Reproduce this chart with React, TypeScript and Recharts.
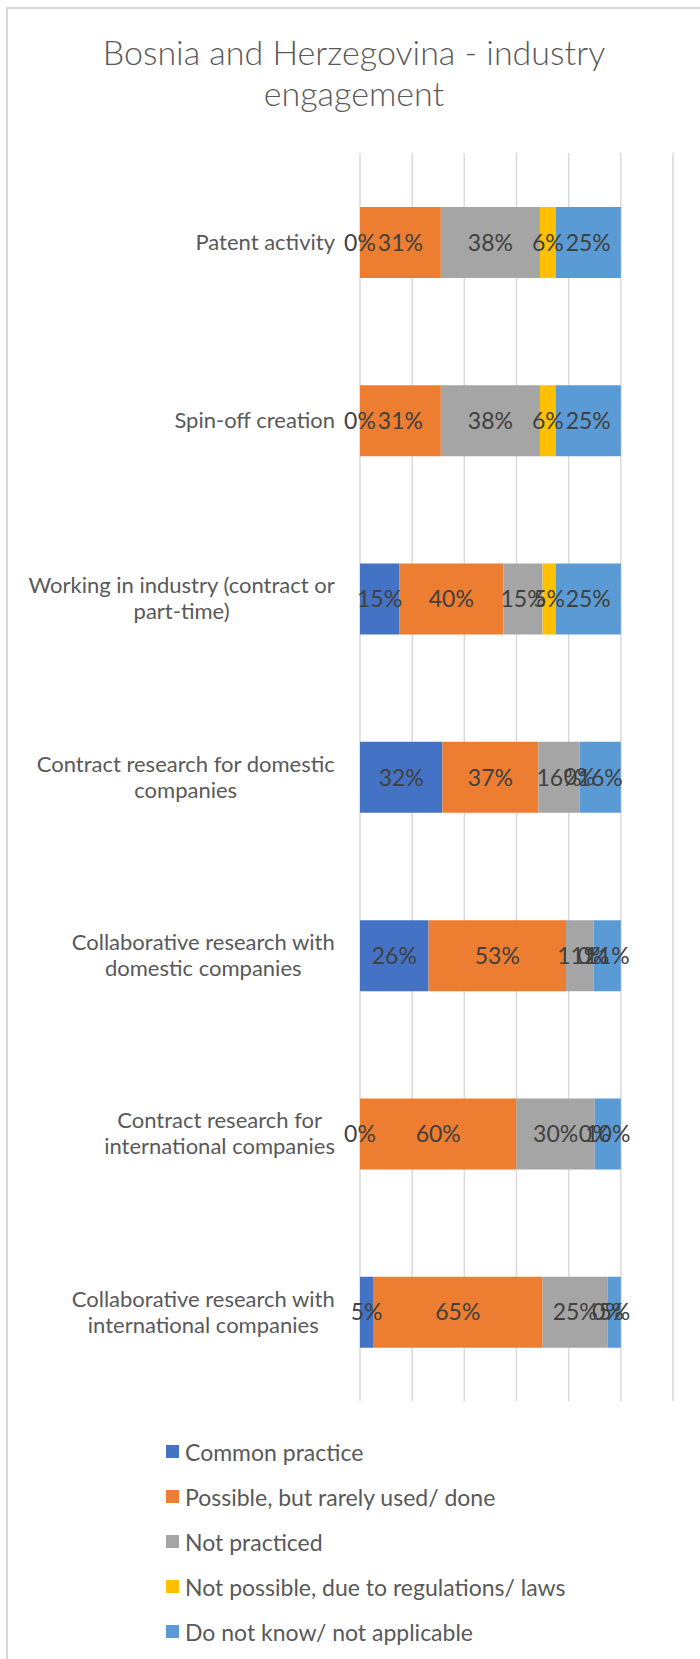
import React from "react";
import { BarChart, Bar, XAxis, YAxis, CartesianGrid, LabelList, Legend } from "recharts";

const categories = [
  "Patent activity",
  "Spin-off creation",
  "Working in industry (contract or\npart-time)",
  "Contract research for domestic\ncompanies",
  "Collaborative research with\ndomestic companies",
  "Contract research for\ninternational companies",
  "Collaborative research with\ninternational companies",
];

const commonPractice = [0, 0, 15, 31.6, 26.3, 0, 5];
const rarelyUsed = [31, 31, 40, 36.8, 52.7, 60, 65];
const notPracticed = [38, 38, 15, 15.8, 10.5, 30, 25];
const notPossible = [6, 6, 5, 0, 0, 0, 0];
const doNotKnow = [25, 25, 25, 15.8, 10.5, 10, 5];

const seriesNames = [
  "Common practice",
  "Possible, but rarely used/ done",
  "Not practiced",
  "Not possible, due to regulations/ laws",
  "Do not know/ not applicable",
];
const seriesKeys = ["common", "rarely", "notPracticed", "notPossible", "unknown"];
const seriesColors = ["#4472C4", "#ED7D31", "#A5A5A5", "#FFC000", "#5B9BD5"];
const seriesValues = [commonPractice, rarelyUsed, notPracticed, notPossible, doNotKnow];

const xTicks = [0, 20, 40, 60, 80, 100, 120];

const data = categories.map((name, i) => ({
  name,
  common: commonPractice[i],
  rarely: rarelyUsed[i],
  notPracticed: notPracticed[i],
  notPossible: notPossible[i],
  unknown: doNotKnow[i],
}));

const FONT = "Lato, 'Noto Sans', sans-serif";
const TEXT = "#595959";
const LABEL = "#404040";
const LABEL_SIZE = 23;

let ctx: CanvasRenderingContext2D | null = null;
const measure = (s: string, size: number) => {
  if (!ctx) ctx = document.createElement("canvas").getContext("2d");
  if (!ctx) return s.length * size * 0.5;
  ctx.font = `${size}px Lato`;
  return ctx.measureText(s).width;
};

const pct = (v: any) => `${Math.round(Number(v))}%`;

const CategoryTick = (props: any) => {
  const { x, y, payload } = props;
  const lines = String(payload.value).split("\n");
  const size = 22;
  if (lines.length === 1) {
    return (
      <text x={x} y={y} dy="0.35em" textAnchor="end" fill={TEXT} fontSize={size} fontFamily={FONT}>
        {lines[0]}
      </text>
    );
  }
  const w = Math.max(...lines.map((l) => measure(l, size)));
  const cx = x - w / 2;
  const lh = 26;
  const y0 = y - ((lines.length - 1) * lh) / 2;
  return (
    <text fill={TEXT} fontSize={size} fontFamily={FONT} textAnchor="middle">
      {lines.map((l, i) => (
        <tspan key={i} x={cx} y={y0 + i * lh} dy="0.35em">
          {l}
        </tspan>
      ))}
    </text>
  );
};

// zero-width segments get no label from recharts, so place their "0%" from the last segment's geometry
const ZeroLabels = (props: any) => {
  const vb = props.viewBox || props;
  const { x, y, width, height } = vb;
  const i = props.index;
  if (i == null || x == null) return null;
  const last = doNotKnow[i];
  if (!last) return null;
  const px = width / last;
  const before = seriesValues.slice(0, 4).reduce((s, arr) => s + arr[i], 0);
  const out: React.ReactNode[] = [];
  let cum = 0;
  for (let k = 0; k < 4; k++) {
    if (seriesValues[k][i] === 0) {
      const lx = x - (before - cum) * px;
      out.push(
        <text
          key={k}
          x={lx}
          y={y + height / 2}
          dy="0.35em"
          textAnchor="middle"
          fill={LABEL}
          fontSize={LABEL_SIZE}
          fontFamily={FONT}
        >
          0%
        </text>
      );
    }
    cum += seriesValues[k][i];
  }
  return <g>{out}</g>;
};

const LegendBox = () => (
  <div style={{ fontFamily: FONT, fontSize: 23, color: TEXT }}>
    {seriesNames.map((n, i) => (
      <div key={n} style={{ display: "flex", alignItems: "center", height: 45 }}>
        <span style={{ width: 13, height: 13, background: seriesColors[i], marginRight: 6, flex: "none" }} />
        <span style={{ whiteSpace: "nowrap" }}>{n}</span>
      </div>
    ))}
  </div>
);

export default function App() {
  return (
    <div style={{ position: "absolute", left: 0, top: 0, width: 700, height: 1659, overflow: "hidden", background: "#fff" }}>
      <div
        style={{
          position: "absolute",
          left: 6,
          top: 7,
          width: 800,
          height: 1800,
          border: "2px solid #D9D9D9",
        }}
      />
      <svg style={{ position: "absolute", left: 0, top: 0 }} width={700} height={130}>
        <text x={354} y={65} textAnchor="middle" fill={TEXT} fontSize={34} fontWeight={300} fontFamily={FONT}>
          Bosnia and Herzegovina - industry
        </text>
        <text x={354} y={106} textAnchor="middle" fill={TEXT} fontSize={34} fontWeight={300} fontFamily={FONT}>
          engagement
        </text>
      </svg>
      <div style={{ position: "absolute", left: 0, top: 0 }}>
        <BarChart
          width={700}
          height={1659}
          data={data}
          layout="vertical"
          margin={{ top: 153, right: 27, bottom: 258, left: 0 }}
        >
          <CartesianGrid
            horizontal={false}
            stroke="#D9D9D9"
            strokeWidth={1.5}
            verticalCoordinatesGenerator={({ xAxis, offset }: any) =>
              xTicks.map((t) =>
                xAxis && typeof xAxis.scale === "function"
                  ? xAxis.scale(t)
                  : offset.left + (t / 120) * offset.width
              )
            }
          />
          <XAxis
            type="number"
            domain={[0, 120]}
            ticks={xTicks}
            height={0}
            tick={false}
            axisLine={false}
            tickLine={false}
          />
          <YAxis
            type="category"
            dataKey="name"
            width={360}
            axisLine={false}
            tickLine={false}
            tickMargin={19}
            interval={0}
            tick={<CategoryTick />}
          />
          <Legend
            layout="vertical"
            align="center"
            verticalAlign="middle"
            content={<LegendBox />}
            wrapperStyle={{ position: "absolute", left: 166, top: 1429, width: 520, height: 230 }}
          />
          {seriesKeys.map((key, i) => (
            <Bar
              key={key}
              dataKey={key}
              name={seriesNames[i]}
              stackId="a"
              fill={seriesColors[i]}
              barSize={71}
              isAnimationActive={false}
            >
              <LabelList
                dataKey={key}
                position="center"
                formatter={pct}
                fill={LABEL}
                fontSize={LABEL_SIZE}
                fontFamily={FONT}
              />
              {key === "unknown" && <LabelList dataKey={key} content={<ZeroLabels />} />}
            </Bar>
          ))}
        </BarChart>
      </div>
    </div>
  );
}
